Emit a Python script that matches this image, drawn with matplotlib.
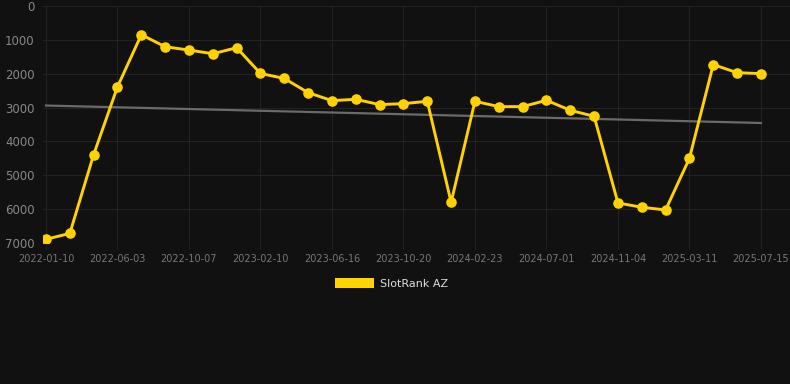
import matplotlib.pyplot as plt
from matplotlib.patches import Patch
import numpy as np

# rank values (lower = better, axis is inverted)
ranks = [6890, 6716, 4389, 2387, 848, 1203, 1302, 1410, 1233, 1992,
         2140, 2559, 2795, 2756, 2913, 2884, 2815, 5797, 2815, 2972,
         2972, 2785, 3081, 3258, 5817, 5945, 6024, 4498, 1732, 1969,
         1998]
tick_labels = ["2022-01-10", "2022-06-03", "2022-10-07", "2023-02-10",
               "2023-06-16", "2023-10-20", "2024-02-23", "2024-07-01",
               "2024-11-04", "2025-03-11", "2025-07-15"]
trend_ends = [2940, 3455]

bg = "#111111"
gold = "#FFD200"

fig = plt.figure(figsize=(7.9, 3.84), dpi=100, facecolor=bg)
ax = fig.add_axes([43 / 790, 1 - 243 / 384, 747 / 790, 237 / 384])
ax.set_facecolor(bg)

x = np.arange(len(ranks))
ax.plot([x[0], x[-1]], trend_ends, color="#6a6a6a", lw=1.6, zorder=2)
ax.plot(x, ranks, color=gold, lw=2.1, marker="o", ms=6.6, zorder=3)

ax.set_ylim(7000, 0)
ax.set_yticks(range(0, 7001, 1000))
ax.set_xlim(-0.126, 31.22)
ax.set_xticks(x[::3])
ax.set_xticklabels(tick_labels)

ax.grid(True, color="#222222", lw=0.8)
for s in ax.spines.values():
    s.set_visible(False)
ax.tick_params(axis="x", colors="#777777", labelsize=7, length=4, color="#222222", pad=4)
ax.tick_params(axis="y", colors="#888888", labelsize=8.5, length=0, pad=6)

ax.legend(handles=[Patch(facecolor=gold, label="SlotRank AZ")], loc="upper center",
          bbox_to_anchor=(0.467, -0.105), frameon=False, handlelength=3.5,
          handleheight=1.05, handletextpad=0.55, fontsize=8, labelcolor="#dddddd")

fig.savefig("out.png", dpi=100, facecolor=bg)
